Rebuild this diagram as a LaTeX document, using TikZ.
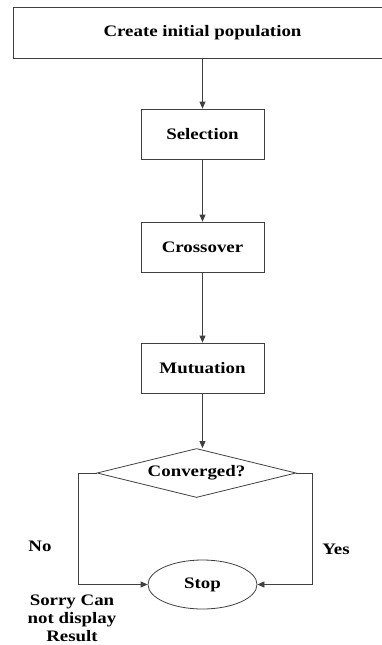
\documentclass[tikz,border=0pt]{standalone}
\usepackage{fontspec}
\setmainfont{Liberation Serif}[FakeStretch=1.18]
\usetikzlibrary{shapes.geometric,arrows.meta}

\begin{document}
\begin{tikzpicture}[x=1pt, y=-1pt,
    font=\fontsize{16}{18}\selectfont\bfseries,
    every node/.style={text=black},
    stepbox/.style={draw=black!75, thick, rectangle, minimum width=123pt, minimum height=50pt},
    flow/.style={draw=black!75, thick, -{Triangle[width=6pt,length=7pt]}}]
  \useasboundingbox (0,0) rectangle (381,645);

  \node[stepbox, minimum width=379pt, minimum height=51pt] (init) at (202.5, 32.5) {Create initial population};
  \node[stepbox] (sel) at (202.5, 134) {Selection};
  \node[stepbox] (cross) at (202.5, 247) {Crossover};
  \node[stepbox] (mut) at (202.5, 368) {Mutuation};
  \node[diamond, draw=black!75, thick, aspect=4, inner sep=0pt, minimum width=199pt, minimum height=49pt] (conv) at (196.5, 473) {Converged?};
  \node[ellipse, draw=black!75, thick, minimum width=109pt, minimum height=49pt] (stop) at (202.5, 584.5) {Stop};

  \draw[flow] (init) -- (sel);
  \draw[flow] (sel) -- (cross);
  \draw[flow] (cross) -- (mut);
  \draw[flow] (mut.south) -- (mut.south |- conv.north);
  \draw[flow] (conv.west) -- ++(-18,0) |- (stop.west);
  \draw[flow] (conv.east) -- ++(16,0) |- (stop.east);

  \node (no) at (40, 546) {No};
  \node (yes) at (336, 549) {Yes};
  \node[align=center] (sorry) at (72, 618) {Sorry Can\\not display\\Result};
\end{tikzpicture}
\end{document}
